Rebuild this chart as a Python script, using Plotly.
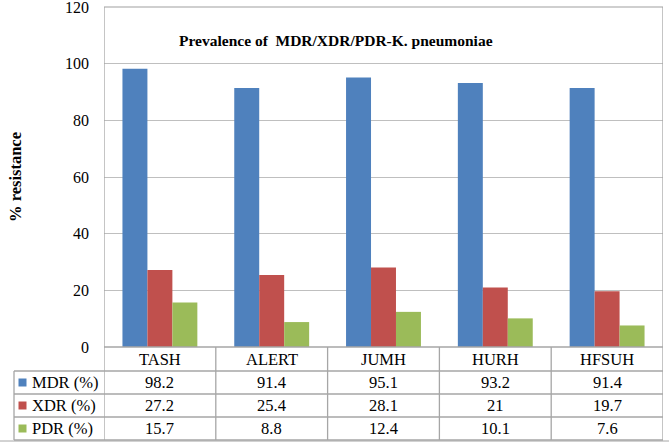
import plotly.graph_objects as go

categories = ["TASH", "ALERT", "JUMH", "HURH", "HFSUH"]
series_names = ["MDR (%)", "XDR (%)", "PDR (%)"]
mdr = [98.2, 91.4, 95.1, 93.2, 91.4]
xdr = [27.2, 25.4, 28.1, 21, 19.7]
pdr = [15.7, 8.8, 12.4, 10.1, 7.6]
colors = ["#4F81BD", "#C0504D", "#9BBB59"]
y_ticks = [0, 20, 40, 60, 80, 100, 120]
title_text = "Prevalence of  MDR/XDR/PDR-K. pneumoniae"
y_title = "% resistance"

W, H = 669, 444
L, R, T, B = 104, 6, 7, 97
PW = W - L - R
PH = H - T - B
FONT = "Liberation Serif"
GRID = "#BFBFBF"
BORDER = "#A6A6A6"
TFS = 16.5

def py(pix):
    # pixel row -> paper y
    return (H - B - pix) / PH

def px(pix):
    return (pix - L) / PW

fig = go.Figure()
all_series = [mdr, xdr, pdr]
for name, vals, col in zip(series_names, all_series, colors):
    fig.add_trace(go.Bar(x=categories, y=vals, name=name, marker_color=col,
                         marker_line_width=0, showlegend=False, hoverinfo="skip"))

shapes = []
annotations = []

row_bounds = [347, 371, 394, 417, 440]
# header row category labels
for c in categories:
    annotations.append(dict(x=c, xref="x", y=py((row_bounds[0] + row_bounds[1]) / 2), yref="paper",
                            text=c, showarrow=False, font=dict(family=FONT, size=TFS, color="black"),
                            xanchor="center", yanchor="middle"))
# value rows
for r, (name, vals, col) in enumerate(zip(series_names, all_series, colors)):
    ymid = (row_bounds[r + 1] + row_bounds[r + 2]) / 2
    for c, v in zip(categories, vals):
        annotations.append(dict(x=c, xref="x", y=py(ymid), yref="paper", text=f"{v:g}",
                                showarrow=False, font=dict(family=FONT, size=TFS, color="black"),
                                xanchor="center", yanchor="middle"))
    annotations.append(dict(x=px(30), xref="paper", y=py(ymid), yref="paper", text=name,
                            showarrow=False, font=dict(family=FONT, size=TFS, color="black"),
                            xanchor="left", yanchor="middle"))
    shapes.append(dict(type="rect", xref="paper", yref="paper",
                       x0=px(18.5), x1=px(26.5), y0=py(ymid - 4), y1=py(ymid + 4),
                       fillcolor=col, line=dict(width=0), layer="above"))

# horizontal table lines
for rb in row_bounds[1:]:
    shapes.append(dict(type="line", xref="paper", yref="paper", x0=px(14), x1=1,
                       y0=py(rb), y1=py(rb), line=dict(color=BORDER, width=1.3), layer="above"))
# bottom outer line
shapes.append(dict(type="line", xref="paper", yref="paper", x0=px(0), x1=px(669),
                   y0=py(441), y1=py(441), line=dict(color=BORDER, width=1), layer="above"))
# zero line and top line
for yy in (0, 1):
    shapes.append(dict(type="line", xref="paper", yref="paper", x0=0, x1=1, y0=yy, y1=yy,
                       line=dict(color=BORDER if yy == 0 else GRID, width=1.3), layer="above"))
# table left border
shapes.append(dict(type="line", xref="paper", yref="paper", x0=px(14), x1=px(14),
                   y0=py(row_bounds[1]), y1=py(row_bounds[-1]), line=dict(color=BORDER, width=1.3), layer="above"))
# vertical column lines
for i in range(len(categories) + 1):
    top = 1 if i in (0, len(categories)) else 0
    shapes.append(dict(type="line", xref="x", yref="paper", x0=i - 0.5, x1=i - 0.5,
                       y0=top, y1=py(row_bounds[-1]), line=dict(color=BORDER, width=1.3), layer="above"))

annotations.append(dict(x=px(336), xref="paper", y=py(41), yref="paper", text=f"<b>{title_text}</b>",
                        showarrow=False, font=dict(family=FONT, size=15.5, color="black"),
                        xanchor="center", yanchor="middle"))

fig.update_layout(
    width=W, height=H,
    margin=dict(l=L, r=R, t=T, b=B, autoexpand=False),
    paper_bgcolor="white", plot_bgcolor="white",
    barmode="group", bargap=0.33, bargroupgap=0,
    shapes=shapes, annotations=annotations,
    font=dict(family=FONT, color="black"),
    xaxis=dict(showticklabels=False, showgrid=False, zeroline=False, showline=False,
               range=[-0.5, len(categories) - 0.5], ticks=""),
    yaxis=dict(range=[0, 120], tickvals=y_ticks, showgrid=True, gridcolor=GRID, gridwidth=1.3,
               zeroline=False, showline=False, ticks="", ticklabelstandoff=14,
               ticklabeloverflow="allow",
               tickfont=dict(family=FONT, size=16, color="black"),
               title=dict(text=f"<b>{y_title}</b>", font=dict(family=FONT, size=16.5, color="black"),
                          standoff=39)),
)

fig.write_html("out.html", config={"displayModeBar": False},
               post_script="document.body.style.margin='0';document.body.style.overflow='hidden';")
